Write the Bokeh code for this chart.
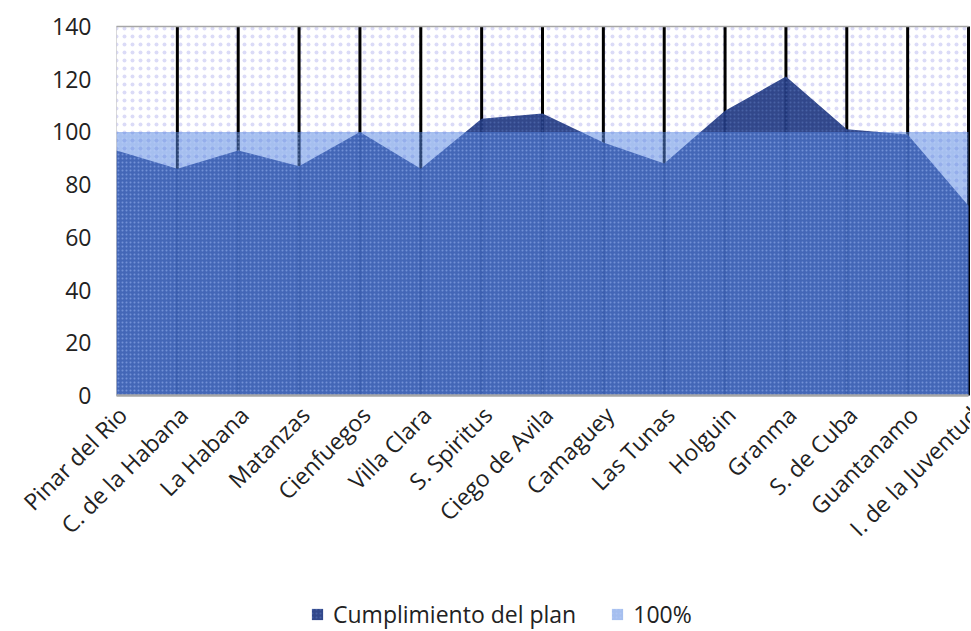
import math
from bokeh.plotting import figure
from bokeh.models import Legend, LegendItem, ColumnDataSource, BoxAnnotation, Range1d
from bokeh.core.properties import value
from bokeh.embed import file_html
from bokeh.resources import INLINE

provincias = ["Pinar del Rio", "C. de la Habana", "La Habana", "Matanzas", "Cienfuegos",
              "Villa Clara", "S. Spiritus", "Ciego de Avila", "Camaguey", "Las Tunas",
              "Holguin", "Granma", "S. de Cuba", "Guantanamo", "I. de la Juventud"]
cumplimiento = [93, 86, 93, 87, 100, 86, 105, 107, 96, 88, 108, 121, 101, 99, 72]
cien = [100] * len(provincias)
y_ticks = [0, 20, 40, 60, 80, 100, 120, 140]

idx = list(range(len(provincias)))
n = len(idx)
src = ColumnDataSource(dict(x=idx, c=cumplimiento, h=cien, z=[0] * n))

FONT = "Open Sans"
TXT = "#222222"

# layout (pixels): plot area from x=116..968, y=26 (140) .. 395 (0)
W, H = 970, 630
left_px, right_px, top_px, bottom_px = 116, 968, 26, 395
ppx = (right_px - left_px) / (n - 1)
ppy = (bottom_px - top_px) / y_ticks[-1]
x_range = Range1d(-left_px / ppx, (n - 1) + (W - right_px) / ppx)
y_range = Range1d(-(H - bottom_px) / ppy, y_ticks[-1] + top_px / ppy)

p = figure(width=W, height=H, output_backend="svg", toolbar_location=None,
           x_axis_type=None, y_axis_type=None, x_range=x_range, y_range=y_range,
           min_border=0)
p.outline_line_color = None
p.background_fill_color = "white"
p.xgrid.grid_line_color = None
p.ygrid.grid_line_color = None

# dotted background of the plot area
p.add_layout(BoxAnnotation(left=idx[0], right=idx[-1], bottom=y_ticks[0], top=y_ticks[-1],
                           fill_alpha=0, line_alpha=0, hatch_pattern="dot",
                           hatch_color="#b8b8f0", hatch_scale=8, hatch_weight=1,
                           hatch_alpha=0.5, level="image"))

# vertical category lines
p.segment(x0=idx[1:], y0=[y_ticks[0]] * (n - 1), x1=idx[1:], y1=[y_ticks[-1]] * (n - 1),
          line_color="black", line_width=3)

dark = p.varea(x="x", y1="z", y2="c", source=src, fill_color="#223a82", fill_alpha=0.93,
               hatch_pattern="dot", hatch_color="#6f8fd8", hatch_scale=4, hatch_alpha=0.35)
light = p.varea(x="x", y1="z", y2="h", source=src, fill_color="#5585e0", fill_alpha=0.52,
                hatch_pattern="dot", hatch_color="#c8d8ff", hatch_scale=4, hatch_alpha=0.3)

# plot-area borders
p.segment(x0=[idx[0]], y0=[y_ticks[-1]], x1=[idx[-1]], y1=[y_ticks[-1]],
          line_color="#a6a6a6", line_width=1.5)
p.segment(x0=[idx[0]], y0=[y_ticks[0]], x1=[idx[-1]], y1=[y_ticks[0]],
          line_color="#a6a6a6", line_width=2.5)
p.segment(x0=[idx[0]], y0=[y_ticks[0]], x1=[idx[0]], y1=[y_ticks[-1]],
          line_color="#b4b4b4", line_width=1, line_dash="1 1")

# y tick labels
p.text(x=[idx[0]] * len(y_ticks), y=y_ticks, text=[str(t) for t in y_ticks],
       text_align="right", text_baseline="middle", x_offset=-25,
       text_font=value(FONT), text_font_size=value("23px"), text_color=TXT)

# category labels, rotated 45 degrees
p.text(x=idx, y=[y_ticks[0]] * n, text=provincias, angle=math.pi / 4,
       text_align="right", text_baseline="middle", x_offset=6, y_offset=15,
       text_font=value(FONT), text_font_size=value("23px"), text_color=TXT)

legend = Legend(items=[LegendItem(label="Cumplimiento del plan", renderers=[dark]),
                       LegendItem(label="100%", renderers=[light])],
                orientation="horizontal", location=(310, 0))
legend.label_text_font = FONT
legend.label_text_font_size = "23px"
legend.label_text_color = TXT
legend.label_height = 14
legend.label_standoff = 9
legend.glyph_width = 14
legend.glyph_height = 14
legend.spacing = 34
legend.border_line_color = None
legend.background_fill_alpha = 0
legend.margin = 0
legend.padding = 0
p.add_layout(legend, "center")

open("out.html", "w").write(file_html(p, INLINE))
